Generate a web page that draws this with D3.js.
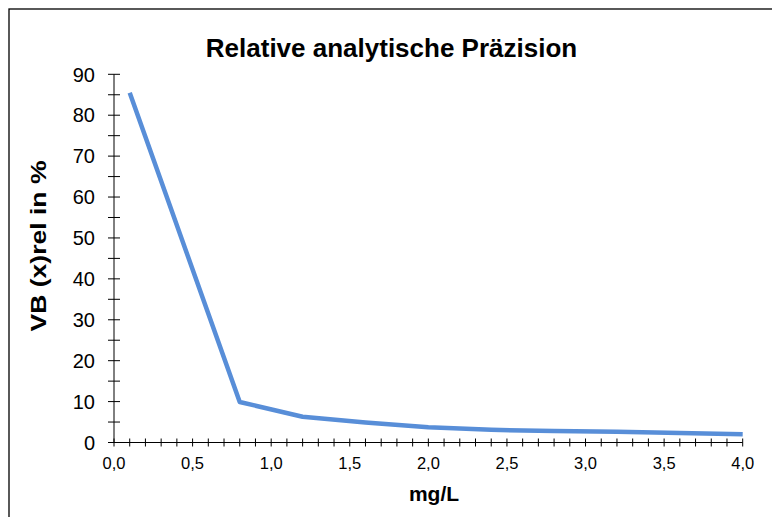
<!DOCTYPE html>
<html>
<head>
<meta charset="utf-8">
<script src="https://cdn.jsdelivr.net/npm/d3@7/dist/d3.min.js"></script>
<style>
  html, body { margin: 0; padding: 0; background: #fff; }
  svg { display: block; font-family: "Liberation Sans", Arial, sans-serif; }
</style>
</head>
<body>
<svg id="chart" width="772" height="517"></svg>
<script>
const concentrations = [0.1, 0.8, 1.2, 1.6, 2.0, 2.4, 2.8, 3.2, 3.6, 4.0];
const vbRel = [85.5, 9.9, 6.3, 4.9, 3.7, 3.1, 2.8, 2.6, 2.3, 2.0];
const xTickLabels = ["0,0", "0,5", "1,0", "1,5", "2,0", "2,5", "3,0", "3,5", "4,0"];
const yTickLabels = ["0", "10", "20", "30", "40", "50", "60", "70", "80", "90"];
const chartTitle = "Relative analytische Präzision";
const xTitle = "mg/L";
const yTitle = "VB (x)rel in %";

const svg = d3.select("#chart");

// frame
svg.append("rect").attr("x", 9).attr("y", 9).attr("width", 800).attr("height", 600)
  .attr("fill", "none").attr("stroke", "#000").attr("stroke-width", 1.3);

const x = d3.scaleLinear().domain([0, 4]).range([114, 742.7]);
const y = d3.scaleLinear().domain([0, 90]).range([442.5, 74.3]);

const axisColor = "#000";

svg.append("line").attr("x1", x(0)).attr("x2", x(0)).attr("y1", y(90)).attr("y2", y(0))
  .attr("stroke", axisColor).attr("stroke-width", 1);
svg.append("line").attr("x1", x(0)).attr("x2", x(4)).attr("y1", y(0)).attr("y2", y(0))
  .attr("stroke", axisColor).attr("stroke-width", 1);

const yTicks = d3.range(0, 91, 5);
svg.append("g").selectAll("line").data(yTicks).join("line")
  .attr("x1", x(0) - 6).attr("x2", x(0) + 6)
  .attr("y1", d => y(d)).attr("y2", d => y(d))
  .attr("stroke", axisColor).attr("stroke-width", 1);

const xTicks = d3.range(0, 41).map(i => i / 10);
svg.append("g").selectAll("line").data(xTicks).join("line")
  .attr("x1", d => x(d)).attr("x2", d => x(d))
  .attr("y1", y(0) - 4).attr("y2", y(0) + 4)
  .attr("stroke", axisColor).attr("stroke-width", 1);

svg.append("g").selectAll("text").data(yTickLabels).join("text")
  .attr("x", 95).attr("y", (d) => y(+d)).attr("dy", "0.36em")
  .attr("text-anchor", "end").attr("font-size", 20).attr("fill", "#000")
  .text(d => d);

svg.append("g").selectAll("text").data(xTickLabels).join("text")
  .attr("x", (d) => x(parseFloat(d.replace(",", ".")))).attr("y", 469)
  .attr("text-anchor", "middle").attr("font-size", 16.5).attr("fill", "#000")
  .text(d => d);

const line = d3.line().x((d, i) => x(concentrations[i])).y(d => y(d));
svg.append("path").datum(vbRel).attr("d", line)
  .attr("fill", "none").attr("stroke", "#588ED8").attr("stroke-width", 4.5)
  .attr("stroke-linejoin", "round");

svg.append("text").attr("x", 391.5).attr("y", 57).attr("text-anchor", "middle")
  .attr("font-size", 26).attr("font-weight", "bold").attr("fill", "#000").text(chartTitle);
svg.append("text").attr("x", 434).attr("y", 501).attr("text-anchor", "middle")
  .attr("font-size", 21).attr("font-weight", "bold").attr("fill", "#000").text(xTitle);
svg.append("text").attr("transform", "translate(46,246) rotate(-90)").attr("text-anchor", "middle")
  .attr("font-size", 22).attr("font-weight", "bold").attr("fill", "#000")
  .attr("textLength", 171).attr("lengthAdjust", "spacingAndGlyphs").text(yTitle);
</script>
</body>
</html>
